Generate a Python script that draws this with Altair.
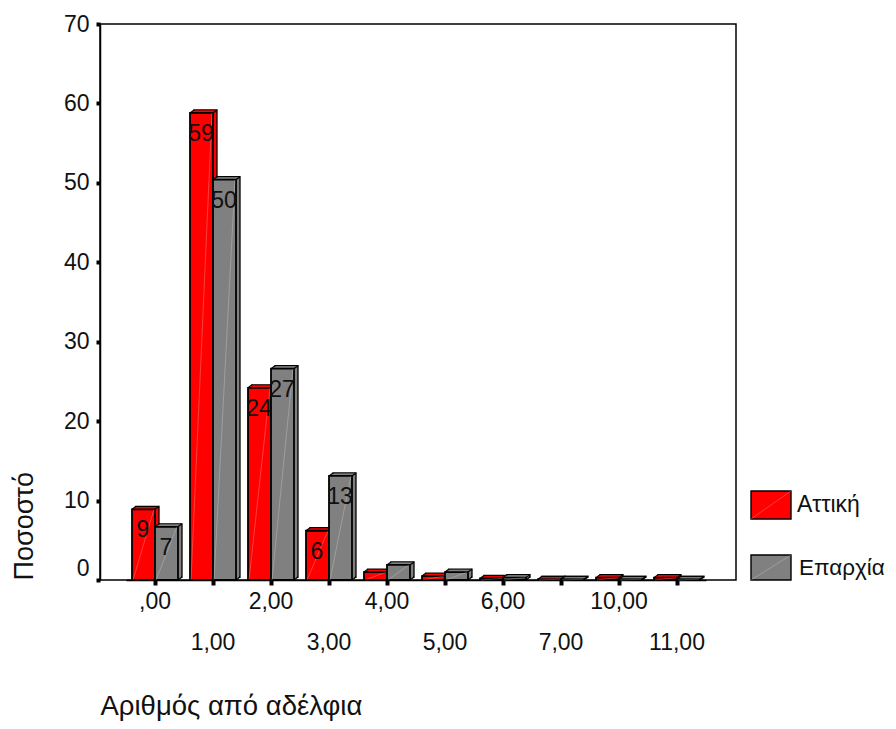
import altair as alt
import pandas as pd

categories = [",00", "1,00", "2,00", "3,00", "4,00", "5,00", "6,00", "7,00", "10,00", "11,00"]
attiki = [8.9, 58.8, 24.2, 6.2, 1.0, 0.5, 0.2, 0.1, 0.3, 0.3]
eparchia = [6.7, 50.4, 26.6, 13.1, 1.9, 1.0, 0.3, 0.1, 0.1, 0.1]
attiki_labels = ["9", "59", "24", "6", "", "", "", "", "", ""]
eparchia_labels = ["7", "50", "27", "13", "", "", "", "", "", ""]
series_names = ["Αττική", "Επαρχία"]
series_colors = ["#ff0000", "#808080"]
FONT = "Liberation Sans"
BAR = 23
DX, DY = 4, 3

rows = []
for c, a, e, la, le in zip(categories, attiki, eparchia, attiki_labels, eparchia_labels):
    rows.append({"cat": c, "series": series_names[0], "value": a, "zero": 0, "label": la})
    rows.append({"cat": c, "series": series_names[1], "value": e, "zero": 0, "label": le})
df = pd.DataFrame(rows)

second_row = [c for i, c in enumerate(categories) if i % 2 == 1]
label_expr = "indexof(" + str(second_row) + ", datum.label) >= 0 ? ['', datum.label] : [datum.label]"

x_axis = alt.Axis(
    title="Αριθμός από αδέλφια", titleFont=FONT, titleFontSize=27.5, titleFontWeight="normal",
    titleColor="#111111", titleAnchor="start", titleAlign="left", titleBaseline="middle",
    titleX=0, titleY=126,
    labelExpr=label_expr, labelAngle=0, labelFont=FONT, labelFontSize=23, labelColor="#111111",
    labelLineHeight=41, labelPadding=5, labelBaseline="top", labelOverlap=False, labelBound=False,
    labelFlush=False,
    tickSize=5, tickWidth=4, tickColor="black", domainColor="black", domainWidth=1.5,
)
y_axis = alt.Axis(
    values=[0, 10, 20, 30, 40, 50, 60, 70],
    title="Ποσοστό", titleFont=FONT, titleFontSize=27, titleFontWeight="normal", titleColor="#111111",
    titleAnchor="start", titleAlign="left", titleBaseline="middle", titleAngle=270,
    titleX=-76, titleY=556,
    labelFont=FONT, labelFontSize=23, labelColor="#111111", labelPadding=7,
    labelOffset=alt.condition("datum.value == 0", alt.value(-12), alt.value(0)),
    labelOverlap=False, labelBound=False, labelFlush=False,
    tickSize=4, tickWidth=4, tickColor="black", domainColor="black", domainWidth=1.5,
    grid=False,
)
x_scale = alt.Scale(range=[26, 606], paddingInner=0, paddingOuter=0)
y_scale = alt.Scale(domain=[0, 70], nice=False)
x_enc = alt.X("cat:N", sort=categories, scale=x_scale, axis=x_axis)


def y_enc(field="value"):
    return alt.Y(field + ":Q", scale=y_scale, axis=y_axis)


def series_layers(name, color, left):
    base = alt.Chart(df).transform_filter(alt.datum.series == name)
    right = left + BAR
    center = left + BAR / 2
    out = []
    # extruded back face with outline
    out.append(base.mark_bar(size=BAR, color=color, stroke="black", strokeWidth=1.3,
                             xOffset=center + DX, yOffset=-DY, y2Offset=-DY)
               .encode(x=x_enc, y=y_enc(), y2="zero:Q"))
    # filling between back and front
    for k in (1, 2, 3):
        out.append(base.mark_bar(size=BAR, color=color, strokeWidth=0,
                                 xOffset=center + k * DX / 4, yOffset=-k * DY / 4, y2Offset=-k * DY / 4)
                   .encode(x=x_enc, y=y_enc(), y2="zero:Q"))
    # slanted edges
    for off, field in ((left, "value"), (right, "value"), (right, "zero")):
        out.append(base.mark_rule(color="black", size=1.2, xOffset=off, x2Offset=off + DX, y2Offset=-DY)
                   .encode(x=x_enc, x2="cat:N", y=y_enc(field), y2=field + ":Q"))
    # front face
    out.append(base.mark_bar(size=BAR, color=color, stroke="black", strokeWidth=1.8, xOffset=center)
               .encode(x=x_enc, y=y_enc(), y2="zero:Q"))
    # faint diagonal highlight
    out.append(base.mark_rule(color="white", size=0.6, opacity=0.4, xOffset=left + 1, x2Offset=right - 1)
               .encode(x=x_enc, x2="cat:N", y=y_enc("zero"), y2="value:Q"))
    return out


def label_layer(name, left):
    return (alt.Chart(df).transform_filter(alt.datum.series == name)
            .mark_text(font=FONT, fontSize=23, color="#111111", align="center", baseline="middle",
                       xOffset=left + BAR / 2 - 0.5, yOffset=21)
            .encode(x=x_enc, y=y_enc(), text="label:N"))


def legend_layers(name, color, x0, x1, y0, y1, tx, ty, size):
    base = alt.Chart(pd.DataFrame({"series": [name]}))
    return [
        base.mark_rect(color=color, stroke="black", strokeWidth=1.4).encode(
            x=alt.value(x0), x2=alt.value(x1), y=alt.value(y0), y2=alt.value(y1)),
        base.mark_rule(color="white", size=0.6, opacity=0.4).encode(
            x=alt.value(x0), x2=alt.value(x1), y=alt.value(y1), y2=alt.value(y0)),
        base.mark_text(font=FONT, fontSize=size, color="#111111", align="left", baseline="middle").encode(
            x=alt.value(tx), y=alt.value(ty), text="series:N"),
    ]


layers = (series_layers(series_names[0], series_colors[0], -BAR)
          + series_layers(series_names[1], series_colors[1], 0)
          + [label_layer(series_names[0], -BAR), label_layer(series_names[1], 0)]
          + legend_layers(series_names[0], series_colors[0], 651, 691, 467, 495, 697, 481, 23)
          + legend_layers(series_names[1], series_colors[1], 651, 691, 531, 556, 699, 544, 22.5))

chart = alt.layer(*layers).properties(
    width=636, height=556,
    background="white",
    autosize=alt.AutoSizeParams(type="none"),
    padding={"left": 92, "top": 16, "right": 152, "bottom": 141},
).configure_view(stroke="black", strokeWidth=1.5)

chart.save("out.html", embed_options={"renderer": "svg", "actions": False})
